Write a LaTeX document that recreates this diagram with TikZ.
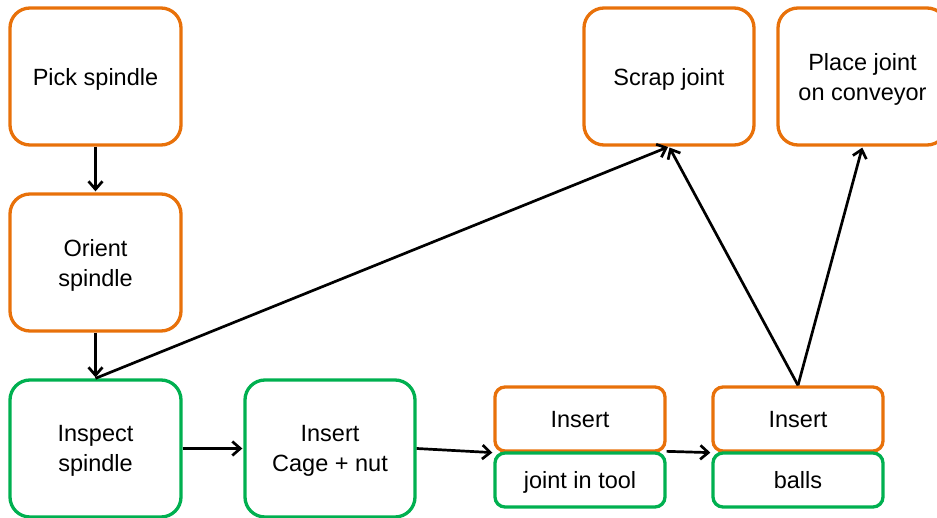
\documentclass[tikz,border=0pt]{standalone}
\usepackage{fontspec}
\setmainfont{Liberation Sans}
\usetikzlibrary{arrows.meta}
\definecolor{orng}{HTML}{E8710A}
\definecolor{grn}{HTML}{00B050}
\tikzset{
  big/.style={draw=orng, line width=3.3pt, rounded corners=20pt, minimum width=171pt, minimum height=137pt, inner sep=0pt, align=center, text depth=0pt, font=\fontsize{23.5}{30}\selectfont},
  bigg/.style={big, draw=grn},
  smallo/.style={draw=orng, line width=3.3pt, rounded corners=10pt, minimum width=170pt, minimum height=64pt, inner sep=0pt, align=center, text depth=0pt, font=\fontsize{23.5}{30}\selectfont},
  smallg/.style={smallo, draw=grn, minimum height=54pt},
  arr/.style={draw=black, line width=2.7pt, -{Straight Barb[length=8pt, width=14pt, line width=2.7pt]}, shorten >=1pt}
}
\begin{document}
\begin{tikzpicture}[x=1pt, y=-1pt]
\useasboundingbox (0,0) rectangle (937,518);
\node[big] (pick) at (95.5,76.5) {Pick spindle};
\node[big] (orient) at (95.5,262.5) {Orient\\spindle};
\node[bigg] (inspect) at (95.5,448.5) {Inspect\\spindle};
\node[bigg, minimum width=170pt] (cage) at (330,448.5) {Insert\\Cage + nut};
\node[big, minimum width=170pt] (scrap) at (669,76.5) {Scrap joint};
\node[big, minimum width=169pt] (place) at (862.5,76.5) {Place joint\\on conveyor};
\node[smallo] (ins1) at (580,419) {Insert};
\node[smallg] (joint) at (580,480) {joint in tool};
\node[smallo] (ins2) at (798,419) {Insert};
\node[smallg] (balls) at (798,480) {balls};
\draw[arr] (pick) -- (orient);
\draw[arr] (orient) -- (inspect);
\draw[arr] (inspect.north) -- (scrap.south);
\draw[arr] (inspect) -- (cage);
\draw[arr] (cage.east) -- (ins1.south west);
\draw[arr] (joint.north east) -- (ins2.south west);
\draw[arr] (ins2.north) -- (scrap.south);
\draw[arr] (ins2.north) -- (place.south);
\end{tikzpicture}
\end{document}
